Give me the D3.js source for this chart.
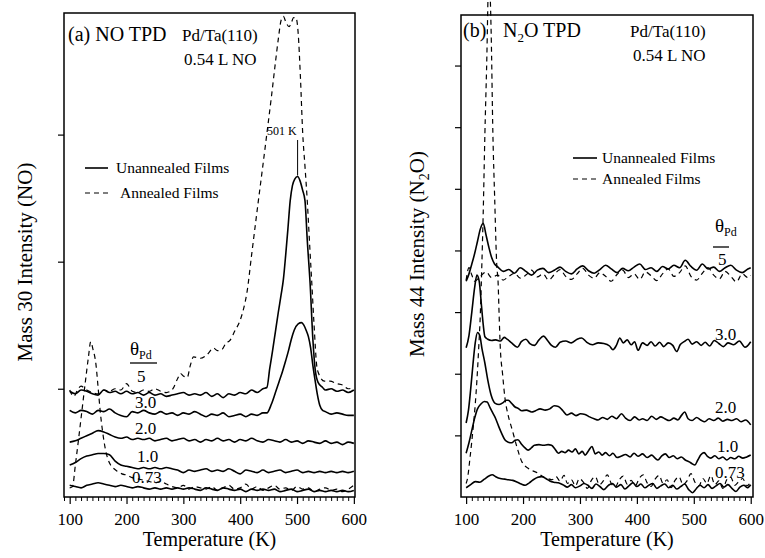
<!DOCTYPE html>
<html>
<head>
<meta charset="utf-8">
<script src="https://cdn.jsdelivr.net/npm/d3@7"></script>
<style>
  body { margin: 0; background: #fff; }
  svg { display: block; }
  text { font-family: "Liberation Serif", "Times New Roman", serif; fill: #000; }
</style>
</head>
<body>
<svg id="chart" width="765" height="558"></svg>
<script>
// ---- data: Pd/Ta(110), 0.54 L NO, TPD traces (arbitrary intensity units, offset per coverage) ----
const coverageLabels = ["5", "3.0", "2.0", "1.0", "0.73"];
const temperatureTicks = [100, 200, 300, 400, 500, 600];
const peakLabelTemp = 501;

// (a) mass 30 (NO)
const no5Unannealed = [[100,98],[110,96],[120,99],[130,98],[140,96],[150,95],[160,99],[170,97],[180,98],[190,96],[200,98],[210,96],[220,97],[230,95],[240,97],[250,95],[260,96],[270,94],[280,95],[290,96],[300,97],[310,95],[320,96],[330,95],[340,97],[350,94],[360,96],[370,93],[380,96],[390,95],[400,97],[410,96],[420,99],[430,97],[440,100],[447,101],[452,116],[457,130],[462,145],[467,160],[472,174],[476,186],[480,205],[484,226],[488,248],[492,260],[496,265],[501,267],[505,264],[510,256],[514,248],[518,217],[523,183],[528,138],[532,115],[537,105],[545,101],[550,99],[560,100],[570,98],[580,99],[590,97],[600,99]];
const no3Unannealed = [[100,83],[110,81],[120,83],[130,82],[140,80],[150,83],[160,82],[170,84],[180,81],[190,79],[200,78],[210,82],[220,81],[230,83],[240,81],[250,80],[260,82],[270,80],[280,81],[290,79],[300,81],[310,80],[320,82],[330,80],[340,78],[350,80],[360,79],[370,81],[380,78],[390,79],[400,80],[410,78],[420,80],[430,79],[440,81],[447,81],[455,88],[462,97],[468,105],[474,113],[480,122],[485,130],[490,139],[495,146],[502,151],[508,152],[512,150],[516,146],[520,141],[524,132],[528,118],[532,106],[536,95],[540,87],[545,83],[550,82],[560,80],[570,81],[580,80],[590,79],[600,79]];
const no2Unannealed = [[100,58],[110,59],[120,61],[130,63],[140,65],[150,67],[160,66],[170,64],[180,62],[190,61],[200,62],[210,60],[220,61],[230,60],[240,61],[250,59],[260,60],[270,61],[280,59],[290,60],[300,61],[310,59],[320,60],[330,58],[340,60],[350,59],[360,61],[370,59],[380,60],[390,58],[400,60],[410,59],[420,61],[430,59],[440,58],[450,60],[460,59],[470,58],[480,60],[490,58],[500,59],[510,57],[520,59],[530,58],[540,57],[550,59],[560,57],[570,58],[580,56],[590,58],[600,57]];
const no1Unannealed = [[100,40],[110,42],[120,45],[130,47],[140,48],[150,49],[160,49],[170,48],[180,43],[190,40],[200,39],[210,38],[220,37],[230,38],[240,37],[250,38],[260,37],[270,38],[280,37],[290,36],[300,34],[310,36],[320,35],[330,36],[340,37],[350,35],[360,36],[370,35],[380,37],[390,35],[400,33],[410,36],[420,35],[430,34],[440,36],[450,34],[460,35],[470,36],[480,34],[490,35],[500,36],[510,34],[520,35],[530,34],[540,35],[550,34],[560,35],[570,34],[580,35],[590,34],[600,35]];
const no073Unannealed = [[100,24],[110,23],[120,22],[130,24],[140,25],[150,26],[160,25],[170,24],[180,23],[190,24],[200,23],[210,22],[220,23],[230,22],[240,21],[250,22],[260,21],[270,22],[280,21],[290,22],[300,21],[310,22],[320,21],[330,20],[340,22],[350,21],[360,20],[370,22],[380,21],[390,20],[400,21],[410,19],[420,21],[430,20],[440,21],[450,20],[460,21],[470,19],[480,20],[490,21],[500,19],[510,20],[520,21],[530,19],[540,20],[550,19],[560,20],[570,19],[580,20],[590,19],[600,20]];
const no5Annealed = [[100,99],[107,94],[115,100],[120,102],[130,99],[140,97],[150,96],[160,99],[170,98],[180,100],[190,99],[200,104],[210,98],[220,97],[230,99],[240,98],[250,100],[260,98],[270,97],[280,99],[290,108],[295,112],[300,110],[307,109],[312,118],[318,125],[330,124],[342,127],[353,132],[360,130],[368,131],[375,136],[382,138],[390,145],[400,154],[406,163],[412,176],[420,205],[432,248],[440,276],[447,301],[455,330],[461,353],[467,375],[472,390],[476,393],[480,389],[486,385],[490,388],[494,392],[498,392],[502,380],[506,345],[510,301],[514,275],[518,248],[522,215],[526,183],[530,150],[535,117],[540,110],[548,106],[558,106],[570,104],[580,103],[590,100],[600,101]];
const no073Annealed = [[100,22],[105,23],[110,40],[115,58],[119,73],[124,92],[128,107],[133,125],[137,137],[141,131],[146,120],[150,101],[154,81],[158,66],[163,52],[167,45],[172,40],[178,37],[184,35],[192,33],[201,32],[210,30],[220,29],[230,28],[240,27],[250,26],[260,27],[270,25],[280,23],[290,22],[300,24],[310,21],[320,23],[330,22],[340,21],[350,23],[360,20],[370,22],[380,24],[390,21],[400,22],[410,25],[420,21],[430,23],[440,20],[450,22],[460,24],[470,21],[480,22],[490,20],[500,23],[510,21],[520,22],[530,19],[540,21],[550,22],[560,20],[570,21],[580,19],[590,21],[600,24]];

// (b) mass 44 (N2O)
const n2o5Unannealed = [[100,350],[105,362],[110,378],[115,395],[120,415],[125,435],[130,444],[135,425],[140,405],[145,388],[150,378],[156,373],[165,366],[175,369],[185,363],[195,372],[205,366],[215,360],[225,368],[235,371],[245,364],[255,368],[265,373],[275,366],[285,362],[295,370],[305,375],[315,367],[325,363],[335,369],[345,376],[355,370],[365,364],[375,371],[385,367],[395,373],[405,378],[415,369],[425,372],[435,366],[445,374],[455,370],[465,376],[475,372],[485,384],[495,374],[505,368],[515,378],[525,370],[535,373],[545,366],[555,372],[565,376],[575,368],[585,364],[595,370],[600,372]];
const n2o3Unannealed = [[100,242],[105,262],[110,300],[115,340],[119,360],[123,350],[127,310],[130,280],[133,260],[138,256],[145,254],[152,255],[160,253],[167,259],[172,256],[180,250],[190,243],[197,252],[205,256],[212,249],[220,246],[228,255],[236,261],[243,254],[250,246],[257,243],[265,251],[275,253],[285,250],[295,256],[303,258],[312,251],[322,247],[332,250],[342,249],[352,245],[358,239],[364,246],[370,258],[376,250],[383,255],[390,247],[396,252],[402,238],[410,250],[418,246],[425,252],[432,245],[440,251],[447,244],[455,250],[463,246],[470,236],[476,247],[483,252],[490,256],[497,248],[505,252],[513,246],[520,251],[528,245],[536,254],[544,249],[552,244],[560,250],[570,247],[580,253],[590,243],[600,252]];
const n2o2Unannealed = [[100,120],[104,140],[108,175],[112,215],[116,250],[120,267],[124,262],[128,240],[133,217],[138,190],[144,165],[151,152],[158,150],[165,153],[170,157],[174,157],[180,152],[186,146],[191,144],[198,140],[206,141],[215,138],[222,140],[230,143],[239,141],[247,143],[255,148],[262,147],[270,140],[277,133],[285,136],[293,132],[301,135],[309,134],[317,130],[325,127],[332,125],[340,129],[348,126],[356,131],[364,127],[373,135],[380,128],[388,124],[396,130],[404,125],[410,127],[418,124],[426,131],[434,126],[442,130],[449,127],[457,124],[465,128],[472,125],[478,132],[484,138],[490,127],[497,124],[505,129],[512,125],[519,122],[527,127],[535,124],[543,128],[551,123],[559,126],[567,124],[575,127],[583,122],[591,125],[600,117]];
const n2o1Unannealed = [[100,71],[105,88],[110,108],[115,128],[120,143],[126,151],[132,155],[137,154],[142,145],[147,136],[152,127],[157,115],[162,104],[168,93],[174,89],[180,88],[186,92],[191,93],[197,86],[203,80],[209,76],[215,80],[220,84],[228,85],[236,84],[244,85],[250,84],[256,78],[262,71],[268,74],[274,72],[280,76],[286,73],[292,78],[298,70],[304,74],[309,68],[315,75],[321,82],[327,70],[333,73],[339,68],[345,72],[352,67],[358,71],[365,64],[372,66],[380,69],[388,65],[395,71],[402,66],[410,70],[418,64],[426,68],[432,63],[437,60],[443,66],[450,70],[457,64],[464,67],[471,62],[478,65],[485,60],[492,57],[497,54],[502,52],[507,60],[512,68],[518,72],[524,66],[530,63],[537,67],[544,62],[551,65],[558,60],[565,64],[572,62],[579,66],[586,63],[593,65],[600,68]];
const n2o073Unannealed = [[100,15],[108,20],[116,25],[124,24],[132,29],[140,34],[146,36],[152,33],[160,30],[168,29],[174,28],[182,27],[190,24],[197,21],[204,19],[211,23],[218,28],[226,32],[233,33],[240,30],[247,26],[254,24],[262,23],[270,20],[278,16],[285,20],[292,15],[300,18],[307,22],[314,19],[321,14],[328,21],[335,17],[342,12],[350,19],[357,22],[364,16],[372,20],[379,13],[386,18],[393,23],[400,17],[407,21],[414,15],[421,19],[428,22],[435,14],[442,18],[449,21],[456,15],[463,19],[470,13],[477,17],[484,21],[491,12],[498,7],[504,13],[511,19],[518,15],[525,20],[532,14],[539,18],[546,22],[553,16],[560,20],[567,14],[574,9],[581,16],[588,19],[594,15],[600,20]];
const n2o5Annealed = [[100,352],[105,372],[110,360],[115,350],[125,358],[135,365],[145,356],[155,360],[165,352],[175,358],[185,363],[195,355],[205,360],[215,368],[225,357],[235,362],[245,352],[255,361],[265,369],[275,358],[285,353],[295,362],[305,371],[315,360],[325,355],[335,364],[345,358],[355,350],[365,361],[375,368],[385,356],[395,362],[405,353],[415,365],[425,359],[435,351],[445,362],[455,370],[465,358],[475,364],[485,375],[495,358],[505,352],[515,363],[525,372],[535,360],[545,354],[555,366],[565,358],[575,349],[585,362],[595,356],[600,360]];
const n2o073Annealed = [[100,22],[102,28],[107,65],[112,109],[116,150],[119,190],[122,240],[125,298],[127.5,373],[130,460],[133,590],[136,697],[140,850],[144,753],[147,590],[150,490],[154,373],[156,352],[158,295],[160,243],[164,200],[168,162],[174,132],[181,109],[189,82],[198,57],[210,46],[218,42],[226,39],[235,33],[243,30],[251,28],[258,33],[265,26],[272,35],[278,22],[285,28],[292,18],[299,30],[306,24],[313,14],[320,27],[327,33],[334,20],[341,26],[348,36],[355,22],[362,16],[369,28],[376,34],[383,21],[390,27],[397,18],[404,30],[411,36],[418,23],[425,17],[432,29],[439,35],[446,22],[453,28],[460,15],[467,27],[474,33],[481,20],[488,26],[495,38],[502,24],[509,18],[516,30],[523,22],[530,35],[537,20],[544,26],[551,14],[558,28],[565,32],[572,19],[579,25],[586,30],[593,18],[600,24]];

// ---- layout of the two panels ----
const svg = d3.select("#chart");

const panels = [
  {
    frame: { left: 64, right: 355, top: 13, bottom: 497 },
    xDomain: [90, 602], yDomain: [14.8, 395.7], yTicks: [100, 200, 300],
    solid: [no5Unannealed, no3Unannealed, no2Unannealed, no1Unannealed, no073Unannealed],
    dashed: [no5Annealed, no073Annealed],
    yTitle: [{ t: "Mass 30 Intensity (NO)" }], yTitleX: 32, yTitleY: 262,
    coverageX: [137, 135, 135, 137, 132], coverageY: [382, 408, 434, 462, 483],
    theta: { x: 130, y: 355, lineX2: 157, lineY: 363 },
    legend: { x1: 85, x2: 108, ySolid: 168, yDashed: 193, textSolidX: 116, textDashedX: 120 }
  },
  {
    frame: { left: 461, right: 753, top: 15, bottom: 497 },
    xDomain: [91, 604], yDomain: [0, 782], yTicks: [100, 200, 300, 400, 500, 600, 700],
    solid: [n2o5Unannealed, n2o3Unannealed, n2o2Unannealed, n2o1Unannealed, n2o073Unannealed],
    dashed: [n2o5Annealed, n2o073Annealed],
    yTitle: [{ t: "Mass 44 Intensity (N" }, { t: "2", sub: true }, { t: "O)" }], yTitleX: 424, yTitleY: 254,
    coverageX: [718, 715, 715, 717, 715], coverageY: [265, 340, 413, 452, 478],
    theta: { x: 715, y: 232, lineX1: 713, lineX2: 729, lineY: 247 },
    legend: { x1: 573, x2: 597, ySolid: 158, yDashed: 179, textSolidX: 602, textDashedX: 602 }
  }
];

panels.forEach(p => {
  const f = p.frame;
  const x = d3.scaleLinear().domain(p.xDomain).range([f.left, f.right]);
  const y = d3.scaleLinear().domain(p.yDomain).range([f.bottom, f.top]);
  p.x = x; p.y = y;
  const g = svg.append("g");

  // minor temperature ticks every 10 K
  const minor = d3.range(90, 601, 10).filter(t => t >= p.xDomain[0] && t % 100 !== 0);
  g.append("g").attr("transform", `translate(0,${f.bottom})`)
    .call(d3.axisBottom(x).tickValues(minor).tickSize(4).tickFormat(""))
    .call(a => a.select(".domain").remove())
    .call(a => a.selectAll("line").attr("stroke-width", 1));

  // major temperature ticks with labels
  g.append("g").attr("transform", `translate(0,${f.bottom})`)
    .call(d3.axisBottom(x).tickValues(temperatureTicks).tickSize(7).tickPadding(9).tickFormat(d3.format("d")))
    .call(a => a.select(".domain").remove())
    .call(a => a.selectAll("line").attr("stroke-width", 1.2))
    .call(a => a.selectAll("text")
      .attr("font-family", '"Liberation Serif", "Times New Roman", serif')
      .attr("font-size", 17).attr("fill", "#000"));

  // intensity ticks (unlabelled)
  g.append("g").attr("transform", `translate(${f.left},0)`)
    .call(d3.axisLeft(y).tickValues(p.yTicks).tickSize(6).tickFormat(""))
    .call(a => a.select(".domain").remove())
    .call(a => a.selectAll("line").attr("stroke-width", 1.2));

  // frame
  g.append("rect")
    .attr("x", f.left).attr("y", f.top)
    .attr("width", f.right - f.left).attr("height", f.bottom - f.top)
    .attr("fill", "none").attr("stroke", "#000").attr("stroke-width", 1.5);

  const line = d3.line()
    .x(d => x(d[0])).y(d => y(d[1]))
    .curve(d3.curveMonotoneX);

  g.selectAll("path.annealed").data(p.dashed).join("path")
    .attr("class", "annealed")
    .attr("d", line)
    .attr("fill", "none").attr("stroke", "#000")
    .attr("stroke-width", 1.2).attr("stroke-dasharray", "5,4");

  g.selectAll("path.unannealed").data(p.solid).join("path")
    .attr("class", "unannealed")
    .attr("d", line)
    .attr("fill", "none").attr("stroke", "#000")
    .attr("stroke-width", 1.6).attr("stroke-linejoin", "round");

  // coverage labels
  coverageLabels.forEach((c, k) => {
    g.append("text").attr("x", p.coverageX[k]).attr("y", p.coverageY[k])
      .attr("font-size", 17).text(c);
  });

  // theta_Pd header
  const th = g.append("text").attr("x", p.theta.x).attr("y", p.theta.y).attr("font-size", 19);
  th.append("tspan").text("θ");
  th.append("tspan").attr("font-size", 12).attr("dy", 4).text("Pd");
  g.append("line")
    .attr("x1", p.theta.lineX1 || p.theta.x).attr("x2", p.theta.lineX2)
    .attr("y1", p.theta.lineY).attr("y2", p.theta.lineY)
    .attr("stroke", "#000").attr("stroke-width", 1.3);

  // legend
  const L = p.legend;
  g.append("line").attr("x1", L.x1).attr("x2", L.x2).attr("y1", L.ySolid).attr("y2", L.ySolid)
    .attr("stroke", "#000").attr("stroke-width", 1.6);
  g.append("line").attr("x1", L.x1).attr("x2", L.x2).attr("y1", L.yDashed).attr("y2", L.yDashed)
    .attr("stroke", "#000").attr("stroke-width", 1.2).attr("stroke-dasharray", "5,4");
  g.append("text").attr("x", L.textSolidX).attr("y", L.ySolid + 5).attr("font-size", 15.5).text("Unannealed Films");
  g.append("text").attr("x", L.textDashedX).attr("y", L.yDashed + 5).attr("font-size", 15.5).text("Annealed Films");

  // axis titles
  g.append("text")
    .attr("x", (f.left + f.right) / 2).attr("y", 546)
    .attr("text-anchor", "middle").attr("font-size", 20)
    .text("Temperature (K)");

  const yt = g.append("text")
    .attr("transform", `translate(${p.yTitleX},${p.yTitleY}) rotate(-90)`)
    .attr("text-anchor", "middle").attr("font-size", 21);
  p.yTitle.forEach((r, k) => {
    const ts = yt.append("tspan").text(r.t);
    if (r.sub) ts.attr("font-size", 14).attr("dy", 5);
    else if (k > 0 && p.yTitle[k - 1].sub) ts.attr("dy", -5);
  });
});

// panel (a) titles
const A = panels[0];
svg.append("text").attr("x", 68).attr("y", 41).attr("font-size", 20).text("(a) NO TPD");
svg.append("text").attr("x", 182).attr("y", 41).attr("font-size", 17).text("Pd/Ta(110)");
svg.append("text").attr("x", 184).attr("y", 65).attr("font-size", 17).text("0.54 L NO");

// peak position marker for the 5 ML unannealed trace
const peakPoint = no5Unannealed.find(d => d[0] === peakLabelTemp);
svg.append("line")
  .attr("x1", A.x(peakLabelTemp)).attr("x2", A.x(peakLabelTemp))
  .attr("y1", 140).attr("y2", A.y(peakPoint[1]) - 1)
  .attr("stroke", "#000").attr("stroke-width", 1);
svg.append("text").attr("x", A.x(peakLabelTemp) - 1).attr("y", 135)
  .attr("text-anchor", "end").attr("font-size", 12).text(peakLabelTemp + " K");

// panel (b) titles
svg.append("text").attr("x", 463).attr("y", 37).attr("font-size", 20).text("(b)");
const nt = svg.append("text").attr("x", 503).attr("y", 37).attr("font-size", 20);
nt.append("tspan").text("N");
nt.append("tspan").attr("font-size", 13).attr("dy", 5).text("2");
nt.append("tspan").attr("dy", -5).text("O TPD");
svg.append("text").attr("x", 630).attr("y", 37).attr("font-size", 17).text("Pd/Ta(110)");
svg.append("text").attr("x", 633).attr("y", 61).attr("font-size", 17).text("0.54 L NO");
</script>
</body>
</html>
